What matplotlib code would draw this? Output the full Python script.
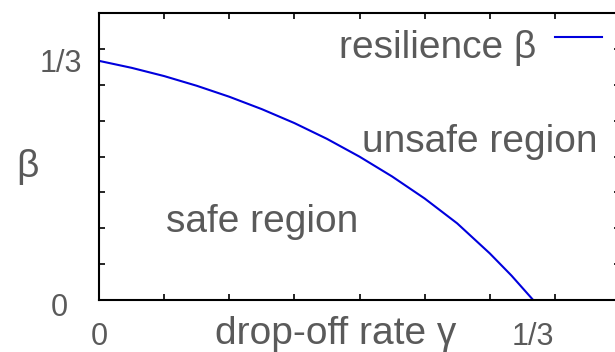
import matplotlib
matplotlib.use("Agg")
import matplotlib.pyplot as plt
import matplotlib.transforms as mtransforms
from matplotlib.ticker import MultipleLocator

plt.rcParams['font.family'] = ['Liberation Sans', 'DejaVu Sans']

# resilience curve
gamma = [0.0, 0.025, 0.05, 0.075, 0.10, 0.125, 0.15, 0.175, 0.20,
         0.225, 0.25, 0.275, 0.30, 0.3167, 1/3]
beta = [0.3333, 0.3236, 0.3121, 0.2986, 0.2833, 0.2660, 0.2466, 0.2246, 0.1998,
        0.1722, 0.1415, 0.1068, 0.0650, 0.0340, 0.0]

xtick_pos = [0, 1/3]
xtick_labels = ['0', '1/3']
ytick_pos = [0, 1/3]
ytick_labels = ['0', '1/3']

text_col = '#5a5a5a'

fig = plt.figure(figsize=(6.15, 3.52), dpi=100)
W, H = 615, 352
ax = fig.add_axes([99 / W, (H - 300) / H, 521 / W, 287 / H])

ax.plot(gamma, beta, color='#0000dd', lw=1.5, label='resilience β')

ax.set_xlim(0, 0.4)
ax.set_ylim(0, 0.4)

ax.set_xticks(xtick_pos, xtick_labels)
ax.set_yticks(ytick_pos, ytick_labels)
ax.xaxis.set_minor_locator(MultipleLocator(0.05))
ax.yaxis.set_minor_locator(MultipleLocator(0.05))
ax.tick_params(which='major', length=0, labelsize=22, labelcolor=text_col)
ax.tick_params(axis='x', which='major', pad=16)
ax.tick_params(axis='y', which='major', pad=12)
ax.tick_params(which='minor', direction='in', length=4, width=1.2,
               top=True, right=True, color='black')
for s in ax.spines.values():
    s.set_linewidth(1.5)

# y label "0" sits a bit further left and lower
ylab0 = ax.get_yticklabels()[0]
ylab0.set_transform(ylab0.get_transform() +
                    mtransforms.ScaledTranslation(-14 / 100, -5 / 100, fig.dpi_scale_trans))

ax.set_xlabel('drop-off rate γ', fontsize=28, color=text_col)
ax.xaxis.set_label_coords(0.455, -0.055)
ax.set_ylabel('β', fontsize=28, color=text_col, rotation=0, va='center', ha='center')
ax.yaxis.set_label_coords(-0.138, 0.465)

ax.text(0.3825, 0.2063, 'unsafe region', fontsize=28, color=text_col,
        ha='right', va='baseline')
ax.text(0.0515, 0.0948, 'safe region', fontsize=28, color=text_col,
        ha='left', va='baseline')

leg = ax.legend(loc='upper right', bbox_to_anchor=(602 / W, (H - 16) / H),
                bbox_transform=fig.transFigure, frameon=False, markerfirst=False,
                fontsize=28, handlelength=1.2, handleheight=2.0,
                borderpad=0, borderaxespad=0, handletextpad=0.5)
for t in leg.get_texts():
    t.set_color(text_col)

fig.savefig('out.png', dpi=100)
